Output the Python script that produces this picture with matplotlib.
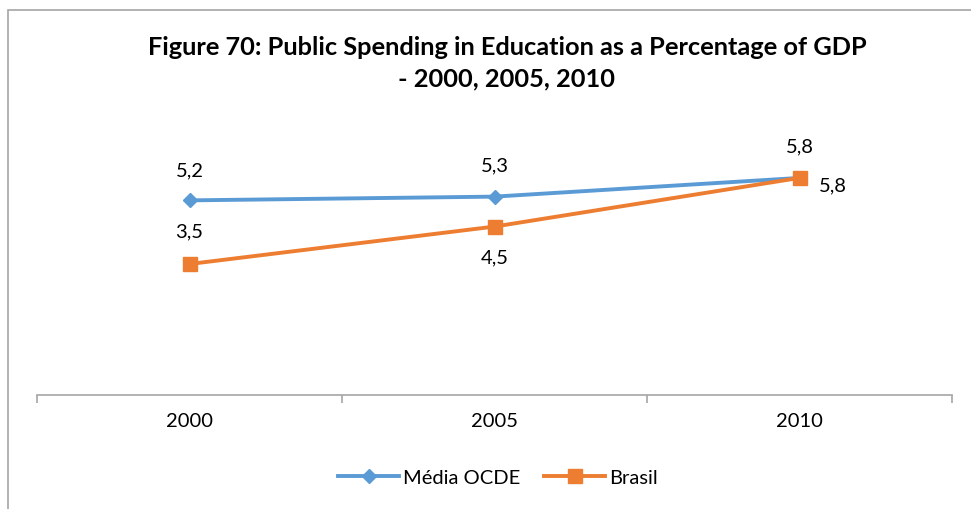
import numpy as np
import matplotlib.pyplot as plt
from matplotlib.patches import Rectangle

plt.rcParams['font.family'] = ['Lato', 'DejaVu Sans']

anos = ['2000', '2005', '2010']
ocde = [5.2, 5.3, 5.8]
brasil = [3.5, 4.5, 5.8]
# posicao dos rotulos: (dx, dy) em pontos
pos_ocde = [(0, 22), (0, 23), (0, 23)]
pos_brasil = [(0, 24), (0, -22), (24, -5)]

azul = '#5B9BD5'
laranja = '#ED7D31'

fig = plt.figure(figsize=(9.71, 5.10), dpi=100)
fig.patches.append(Rectangle((8/971, -0.1), 1.2, 1 - 11/510 + 0.1,
                             transform=fig.transFigure, fill=False,
                             edgecolor='#A6A6A6', linewidth=1.2))

ax = fig.add_axes([37/971, 1 - 396/510, (952 - 37)/971, (396 - 134)/510])
x = np.arange(len(anos))
ax.plot(x, ocde, color=azul, lw=2.8, marker='D', ms=7.5, label='Média OCDE')
ax.plot(x, brasil, color=laranja, lw=2.8, marker='s', ms=10, label='Brasil')

for i in range(len(anos)):
    ax.annotate(f'{ocde[i]:.1f}'.replace('.', ','), (x[i], ocde[i]),
                xytext=pos_ocde[i], textcoords='offset points',
                ha='center', va='center', fontsize=14.5)
    ax.annotate(f'{brasil[i]:.1f}'.replace('.', ','), (x[i], brasil[i]),
                xytext=pos_brasil[i], textcoords='offset points',
                ha='center', va='center', fontsize=14.5)

ax.set_xlim(-0.5, 2.5)
ax.set_ylim(0, 7)
ax.set_yticks([])
for s in ['left', 'right', 'top']:
    ax.spines[s].set_visible(False)
ax.spines['bottom'].set_color('#A6A6A6')
ax.spines['bottom'].set_linewidth(1.2)
ax.set_xticks([-0.5, 0.5, 1.5, 2.5])
ax.set_xticklabels([])
ax.set_xticks(x, minor=True)
ax.set_xticklabels(anos, minor=True, fontsize=14.5)
ax.tick_params(axis='x', which='major', length=6, color='#A6A6A6', width=1.2)
ax.tick_params(axis='x', which='minor', length=0, pad=12)

fig.text(507/971, 1 - 63/510,
         'Figure 70: Public Spending in Education as a Percentage of GDP\n- 2000, 2005, 2010',
         ha='center', va='center', fontsize=18.3, fontweight='bold', linespacing=1.45)

fig.legend(loc='center', bbox_to_anchor=(498/971, 1 - 478/510), ncol=2,
           frameon=False, fontsize=14.5, handlelength=3, columnspacing=1.2,
           handletextpad=0.2)

fig.savefig('out.png', dpi=100)
